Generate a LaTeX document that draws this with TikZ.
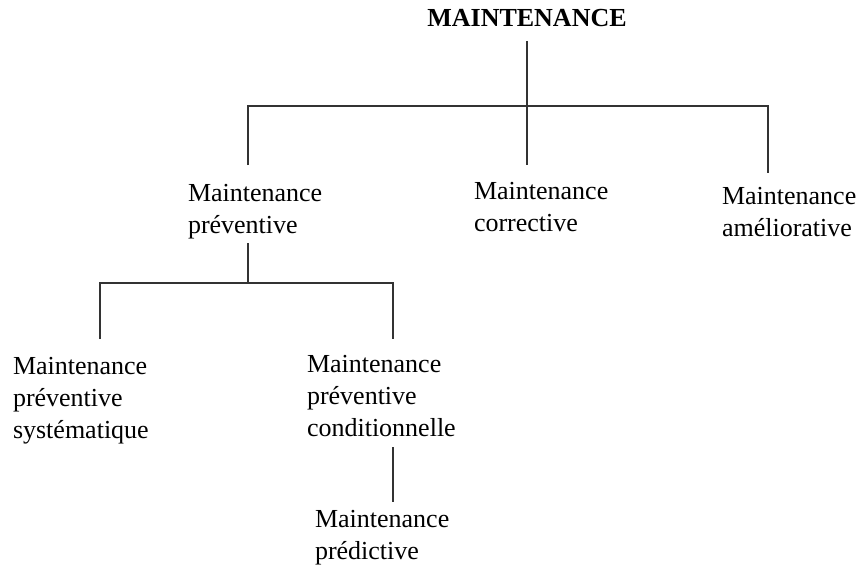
\documentclass[tikz,border=0pt]{standalone}
\usepackage{fontspec}
\setmainfont{Liberation Serif}
\begin{document}
\begin{tikzpicture}[x=1pt,y=-1pt,
  lbl/.style={inner sep=0pt,outer sep=0pt,align=left,anchor=north west,
    font=\fontsize{26}{32}\selectfont},
  conn/.style={line width=1.3pt,draw=black!80}]
\useasboundingbox (0,0) rectangle (856,567);
\node[inner sep=0pt,anchor=base,font=\fontsize{26}{32}\selectfont\bfseries] (root) at (527,27) {MAINTENANCE};
\node[lbl] (prev) at (188,184) {Maintenance\\préventive};
\node[lbl] (corr) at (474,182) {Maintenance\\corrective};
\node[lbl] (amel) at (722,187) {Maintenance\\améliorative};
\node[lbl] (syst) at (13,357) {Maintenance\\préventive\\systématique};
\node[lbl] (cond) at (307,355) {Maintenance\\préventive\\conditionnelle};
\node[lbl] (pred) at (315,510) {Maintenance\\prédictive};
% junctions
\coordinate (j1) at (527,106);
\coordinate (j1l) at (248,106);
\coordinate (j1r) at (768,106);
\coordinate (j2) at (248,283);
\coordinate (j2l) at (100,283);
\coordinate (j2r) at (393,283);
\coordinate (e0) at (527,41);
\coordinate (e1) at (248,165);
\coordinate (e2) at (527,165);
\coordinate (e3) at (768,173);
\coordinate (e4) at (248,243);
\coordinate (e5) at (100,339);
\coordinate (e6) at (393,339);
\coordinate (e7) at (393,447);
\coordinate (e8) at (393,502);
\draw[conn] (e0) -- (j1);
\draw[conn] (e1) -- (j1l) -- (j1r) -- (e3);
\draw[conn] (j1) -- (e2);
\draw[conn] (e4) -- (j2);
\draw[conn] (e5) -- (j2l) -- (j2r) -- (e6);
\draw[conn] (e7) -- (e8);
\end{tikzpicture}
\end{document}
